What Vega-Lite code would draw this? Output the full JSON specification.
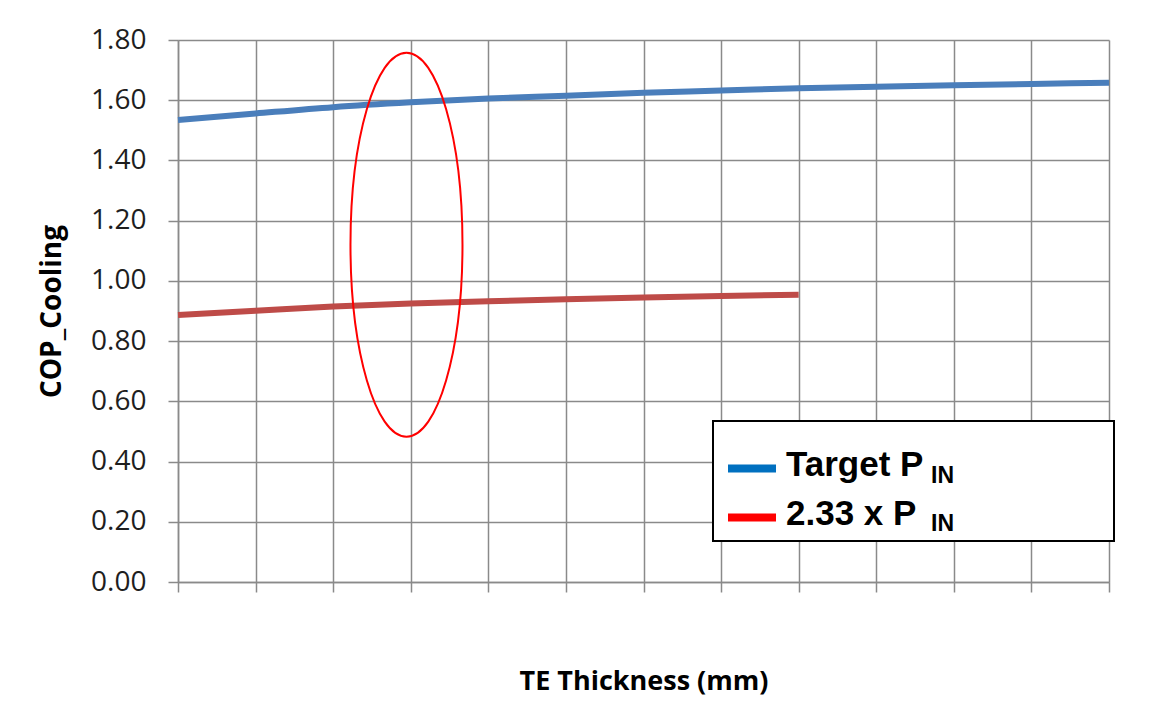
{
  "$schema": "https://vega.github.io/schema/vega-lite/v6.json",
  "width": 931,
  "height": 542,
  "autosize": {"type": "none"},
  "padding": {"left": 178, "top": 40, "right": 63, "bottom": 121},
  "background": "#ffffff",
  "config": {"view": {"stroke": null}},
  "datasets": {
    "cop": [
      {"step": 0, "cop": 1.534, "series": "Target P_IN", "key": "target"},
      {"step": 1, "cop": 1.556, "series": "Target P_IN", "key": "target"},
      {"step": 2, "cop": 1.577, "series": "Target P_IN", "key": "target"},
      {"step": 3, "cop": 1.593, "series": "Target P_IN", "key": "target"},
      {"step": 4, "cop": 1.606, "series": "Target P_IN", "key": "target"},
      {"step": 5, "cop": 1.615, "series": "Target P_IN", "key": "target"},
      {"step": 6, "cop": 1.625, "series": "Target P_IN", "key": "target"},
      {"step": 7, "cop": 1.632, "series": "Target P_IN", "key": "target"},
      {"step": 8, "cop": 1.640, "series": "Target P_IN", "key": "target"},
      {"step": 9, "cop": 1.645, "series": "Target P_IN", "key": "target"},
      {"step": 10, "cop": 1.650, "series": "Target P_IN", "key": "target"},
      {"step": 11, "cop": 1.654, "series": "Target P_IN", "key": "target"},
      {"step": 12, "cop": 1.658, "series": "Target P_IN", "key": "target"},
      {"step": 0, "cop": 0.887, "series": "2.33 x P_IN", "key": "x2.33"},
      {"step": 1, "cop": 0.901, "series": "2.33 x P_IN", "key": "x2.33"},
      {"step": 2, "cop": 0.915, "series": "2.33 x P_IN", "key": "x2.33"},
      {"step": 3, "cop": 0.925, "series": "2.33 x P_IN", "key": "x2.33"},
      {"step": 4, "cop": 0.932, "series": "2.33 x P_IN", "key": "x2.33"},
      {"step": 5, "cop": 0.939, "series": "2.33 x P_IN", "key": "x2.33"},
      {"step": 6, "cop": 0.945, "series": "2.33 x P_IN", "key": "x2.33"},
      {"step": 7, "cop": 0.950, "series": "2.33 x P_IN", "key": "x2.33"},
      {"step": 8, "cop": 0.954, "series": "2.33 x P_IN", "key": "x2.33"}
    ],
    "highlight": [
      {"step": 2.945, "cop": 1.12}
    ]
  },
  "layer": [
    {
      "data": {"name": "cop"},
      "mark": {"type": "line", "strokeWidth": 6, "interpolate": "monotone"},
      "encoding": {
        "x": {
          "field": "step",
          "type": "quantitative",
          "scale": {"domain": [0, 12], "nice": false, "zero": false},
          "axis": {
            "values": [0, 1, 2, 3, 4, 5, 6, 7, 8, 9, 10, 11, 12],
            "labels": false,
            "ticks": true,
            "tickSize": 10,
            "tickColor": "#8a8a8a",
            "tickWidth": 1.5,
            "grid": true,
            "gridColor": "#8a8a8a",
            "gridWidth": 1.5,
            "gridOpacity": 1,
            "domainColor": "#8a8a8a",
            "domainWidth": 1.5,
            "title": "TE Thickness (mm)",
            "titleFont": "Open Sans",
            "titleFontSize": 27,
            "titleFontWeight": "bold",
            "titleColor": "#000000",
            "titlePadding": 76
          }
        },
        "y": {
          "field": "cop",
          "type": "quantitative",
          "scale": {"domain": [0, 1.8], "nice": false},
          "axis": {
            "values": [0, 0.2, 0.4, 0.6, 0.8, 1.0, 1.2, 1.4, 1.6, 1.8],
            "format": ".2f",
            "labelFont": "Open Sans",
            "labelFontSize": 28,
            "labelColor": "#1e1e1e",
            "labelPadding": 22,
            "ticks": true,
            "tickSize": 10,
            "tickColor": "#8a8a8a",
            "tickWidth": 1.5,
            "grid": true,
            "gridColor": "#8a8a8a",
            "gridWidth": 1.5,
            "gridOpacity": 1,
            "domainColor": "#8a8a8a",
            "domainWidth": 1.5,
            "title": "COP_Cooling",
            "titleFont": "Open Sans",
            "titleFontSize": 28,
            "titleFontWeight": "bold",
            "titleColor": "#000000",
            "titlePadding": 24
          }
        },
        "color": {
          "field": "series",
          "type": "nominal",
          "scale": {"domain": ["Target P_IN", "2.33 x P_IN"], "range": ["#4A7EBB", "#BE4B48"]},
          "legend": {
            "orient": "none",
            "legendX": 535,
            "legendY": 381,
            "title": " ",
            "titleFontSize": 12,
            "titlePadding": 9,
            "padding": 9,
            "strokeColor": "#000000",
            "fillColor": "#ffffff",
            "rowPadding": 13,
            "symbolType": "M-0.657,-0.229H2.086V0.229H-0.657Z M20.83,0",
            "symbolSize": 1225,
            "symbolStrokeWidth": 0,
            "labelFont": "Liberation Sans",
            "labelFontSize": 35,
            "labelFontWeight": "bold",
            "labelColor": "#000000",
            "labelOffset": 29,
            "labelLimit": 400,
            "labelExpr": "datum.value == 'Target P_IN' ? 'Target P' : ' 2.33 x P'",
            "encode": {
              "legend": {"update": {"strokeWidth": {"value": 2}}},
              "labels": {"update": {"dy": {"value": -4}}},
              "symbols": {
                "update": {
                  "shape": {"value": "M-0.657,-0.229H2.086V0.229H-0.657Z M20.83,0"},
                  "fill": {"signal": "datum.value == 'Target P_IN' ? '#0070C0' : '#FF0000'"},
                  "stroke": {"value": "transparent"},
                  "strokeWidth": {"value": 0},
                  "opacity": {"value": 1}
                }
              }
            }
          }
        }
      }
    },
    {
      "data": {"name": "cop"},
      "mark": {"type": "point", "opacity": 0},
      "encoding": {
        "x": {"field": "step", "type": "quantitative"},
        "y": {"field": "cop", "type": "quantitative"},
        "shape": {
          "field": "key",
          "type": "nominal",
          "scale": {"domain": ["target", "x2.33"]},
          "legend": {
            "orient": "none",
            "legendX": 730,
            "legendY": 424,
            "title": null,
            "padding": 0,
            "rowPadding": 24,
            "symbolSize": 1,
            "symbolOpacity": 0,
            "symbolStrokeWidth": 0,
            "labelOffset": 0,
            "labelFont": "Liberation Sans",
            "labelFontSize": 23,
            "labelFontWeight": "bold",
            "labelColor": "#000000",
            "labelExpr": "'IN'"
          }
        }
      }
    },
    {
      "data": {"name": "highlight"},
      "mark": {
        "type": "point",
        "shape": "M-0.2917,0 A0.2917,1 0 1,1 0.2917,0 A0.2917,1 0 1,1 -0.2917,0 Z",
        "size": 147456,
        "filled": false,
        "stroke": "#FF0000",
        "strokeWidth": 2,
        "opacity": 1
      },
      "encoding": {
        "x": {"field": "step", "type": "quantitative"},
        "y": {"field": "cop", "type": "quantitative"}
      }
    }
  ]
}
